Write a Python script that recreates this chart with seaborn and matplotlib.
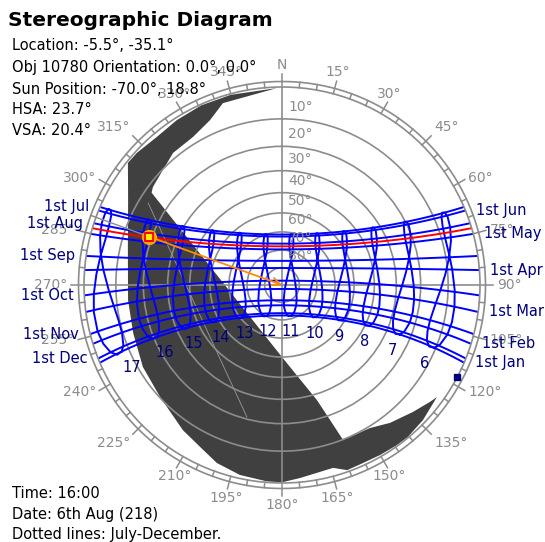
import numpy as np
import pandas as pd
import matplotlib
matplotlib.use("Agg")
import matplotlib.pyplot as plt
import seaborn as sns

plt.rcParams['font.family'] = ['DejaVu Sans']

# ---------------- data ----------------
LATITUDE = -5.5
LONGITUDE = -35.1
TIMEZONE = -3.0
OBJECT_ID = 10780
ORIENTATION = (0.0, 0.0)
SUN_AZIMUTH = -70.0
SUN_ALTITUDE = 18.8
HSA = 23.7
VSA = 20.4
TIME_LABEL = "16:00"
DATE_LABEL = "6th Aug (218)"

MONTH_LABELS = ['1st Jan', '1st Feb', '1st Mar', '1st Apr', '1st May', '1st Jun',
                '1st Jul', '1st Aug', '1st Sep', '1st Oct', '1st Nov', '1st Dec']
MONTH_DECLINATION = [-23.0, -17.2, -7.8, 4.3, 14.9, 22.0, 23.1, 18.1, 8.4, -3.0, -14.3, -21.7]
MONTH_EOT = [-3.2, -13.6, -12.5, -4.1, 2.9, 2.3, -3.7, -6.3, -0.1, 10.1, 16.4, 11.2]
MID_DECLINATION = [-21.2, -12.9, -2.4, 9.7, 18.8, 23.3, 21.6, 13.8, 2.9, -8.4, -18.4, -23.3]
MID_EOT = [-9.1, -14.2, -9.2, -0.1, 3.6, -0.3, -6.0, -4.5, 4.8, 14.2, 15.3, 4.6]
CURRENT_DECLINATION = 16.6
CURRENT_EOT = -5.9
CLOCK_HOURS = [6, 7, 8, 9, 10, 11, 12, 13, 14, 15, 16, 17]

ALTITUDE_RINGS = [10, 20, 30, 40, 50, 60, 70, 80]
AZIMUTH_LABELS = list(range(0, 360, 15))

OBSTRUCTION_AZIMUTH = [358.5, 344.9, 335.8, 327.5, 319.8, 312.3, 308.4,
                       298.9, 282.8, 264.4, 252.1, 239.5, 227.4, 214.3, 205.6,
                       200.1, 192.5, 184.4, 180.0, 174.7, 164.4, 160.6, 155.5,
                       150.0, 144.6, 140.5, 133.8, 125.9,
                       128.3, 134.1, 141.9, 148.4, 155.9, 158.5,
                       160.4, 163.1, 180.0, 231.3, 305.3,
                       307.2, 314.0, 320.5, 329.0, 336.4, 342.0]
OBSTRUCTION_ALTITUDE = [0.3, 0.3, 0.3, 0.7, 1.2, 0.5, 0.4,
                        6.8, 12.8, 14.0, 13.4, 11.6, 10.2, 6.8, 4.6,
                        2.5, 1.0, 0.3, 0.2, 1.2, 2.4, 0.5, 0.7,
                        0.5, 0.3, 0.2, 0.8, 2.0,
                        2.8, 4.7, 7.0, 9.4, 9.9, 9.9,
                        18.2, 27.4, 50.0, 64.5, 12.2,
                        11.4, 10.2, 8.3, 7.8, 5.5, 2.0]
EDGE_LINE_AZIMUTH = [301.5, 194.9]
EDGE_LINE_ALTITUDE = [13.2, 20.8]
MARKER_AZIMUTH = 117.6
MARKER_ALTITUDE = 0.0

# ---------------- style ----------------
GRAY = '#8c8c8c'
BLUE = '#0000ff'
NAVY = '#00007a'
SHADOW = '#404040'

W, H = 545, 542
CX, CY, RPX = 282, 285, 198
fig = plt.figure(figsize=(W / 100, H / 100), dpi=100)
ax = fig.add_axes([(CX - RPX) / W, 1 - (CY + RPX) / H, 2 * RPX / W, 2 * RPX / H],
                  projection='polar')


def fwd(z):
    z = np.clip(np.asarray(z, dtype=float), -170, 170)
    return np.tan(np.radians(z) / 2.0)


def inv(r):
    return np.degrees(2.0 * np.arctan(np.asarray(r, dtype=float)))


ax.set_theta_zero_location('N')
ax.set_theta_direction(-1)
ax.set_rscale('function', functions=(fwd, inv))
ax.set_rlim(0, 90)

PHI = np.radians(LATITUDE)
CLOCK_SHIFT = (LONGITUDE - 15.0 * TIMEZONE) / 15.0


def horizontal(dec, hour_angle):
    """equatorial (declination, hour angle) -> horizontal (altitude, azimuth)"""
    d = np.radians(dec)
    h = np.radians(hour_angle)
    sin_alt = np.sin(PHI) * np.sin(d) + np.cos(PHI) * np.cos(d) * np.cos(h)
    alt = np.degrees(np.arcsin(np.clip(sin_alt, -1, 1)))
    east = -np.cos(d) * np.sin(h)
    north = np.sin(d) * np.cos(PHI) - np.cos(d) * np.cos(h) * np.sin(PHI)
    az = np.degrees(np.arctan2(east, north)) % 360
    return alt, az


def hour_angle(clock, eot):
    return 15.0 * (clock + CLOCK_SHIFT + eot / 60.0 - 12.0)


def day_path(dec):
    h0 = np.degrees(np.arccos(np.clip(-np.tan(PHI) * np.tan(np.radians(dec)), -1, 1)))
    ha = np.linspace(-h0, h0, 121)
    alt, az = horizontal(dec, ha)
    return np.radians(az), 90.0 - np.clip(alt, 0, None)


# obstruction (shadow) mask
ax.fill(np.radians(OBSTRUCTION_AZIMUTH), 90.0 - np.array(OBSTRUCTION_ALTITUDE),
        color=SHADOW, lw=0, zorder=1)
ax.plot(np.radians(EDGE_LINE_AZIMUTH), 90.0 - np.array(EDGE_LINE_ALTITUDE),
        color='#9a9a9a', lw=0.6, zorder=1.2)

# grid
ax.set_rgrids([90 - a for a in ALTITUDE_RINGS], labels=[''] * len(ALTITUDE_RINGS))
ax.set_xticks(np.radians([0, 90, 180, 270]))
ax.set_xticklabels([])
ax.tick_params(length=0)
ax.grid(True, color=GRAY, lw=1.2)
ax.spines['polar'].set_color(GRAY)
ax.spines['polar'].set_linewidth(1.2)

# outer ring and ticks
z_outer = inv(203.5 / RPX)
z_major = inv(211.0 / RPX)
z_label = inv(213.0 / RPX)
ring = np.linspace(0, 2 * np.pi, 361)
ax.plot(ring, np.full_like(ring, z_outer), color=GRAY, lw=1.2, clip_on=False)
for a in range(0, 360, 5):
    top = z_major if a % 15 == 0 else z_outer
    ax.plot([np.radians(a)] * 2, [90, top], color=GRAY, lw=1.1, clip_on=False)

# azimuth labels
for a in AZIMUTH_LABELS:
    lab = 'N' if a == 0 else f'{a}°'
    s, c = np.sin(np.radians(a)), np.cos(np.radians(a))
    ha = 'center' if abs(s) < 0.6 else ('left' if s > 0 else 'right')
    va = 'center' if abs(c) < 0.6 else ('bottom' if c > 0 else 'top')
    ax.annotate(lab, xy=(np.radians(a), z_label), xytext=(2 * s, 0),
                textcoords='offset pixels', ha=ha, va=va,
                color=GRAY, fontsize=10, annotation_clip=False)

# altitude labels
for a in ALTITUDE_RINGS:
    ax.annotate(f'{a}°', xy=(0, 90 - a), xytext=(6, 12), textcoords='offset pixels',
                ha='left', va='center', color=GRAY, fontsize=10)

# date lines
rows = []
for lab, dec in zip(MONTH_LABELS, MONTH_DECLINATION):
    th, z = day_path(dec)
    rows.append(pd.DataFrame({'theta': th, 'z': z, 'unit': lab}))
dates_df = pd.concat(rows, ignore_index=True)
sns.lineplot(data=dates_df, x='theta', y='z', units='unit', estimator=None, sort=False,
             color=BLUE, lw=1.4, ax=ax, legend=False)

# analemma hour lines
year_dec, year_eot = [], []
for a, b, c, d in zip(MONTH_DECLINATION, MID_DECLINATION, MONTH_EOT, MID_EOT):
    year_dec += [a, b]
    year_eot += [c, d]
year_dec = np.array(year_dec + year_dec[:1])
year_eot = np.array(year_eot + year_eot[:1])
rows = []
for hr in CLOCK_HOURS:
    alt, az = horizontal(year_dec, hour_angle(hr, year_eot))
    rows.append(pd.DataFrame({'theta': np.radians(az), 'z': 90 - np.clip(alt, 0, None),
                              'unit': hr}))
hours_df = pd.concat(rows, ignore_index=True)
sns.lineplot(data=hours_df, x='theta', y='z', units='unit', estimator=None, sort=False,
             color=BLUE, lw=1.4, ax=ax, legend=False)

# current date
th, z = day_path(CURRENT_DECLINATION)
sns.lineplot(x=th, y=z, sort=False, estimator=None, color='#ff0000', lw=1.4, ax=ax)

ax.set_xlabel('')
ax.set_ylabel('')
ax.set_rlim(0, 90)
ax.set_facecolor('white')

# date labels
for i, (lab, dec) in enumerate(zip(MONTH_LABELS, MONTH_DECLINATION)):
    th, z = day_path(dec)
    if i < 6:
        ax.annotate(lab, xy=(th[0], 90), xytext=(11, 0), textcoords='offset pixels',
                    ha='left', va='center', color=NAVY, fontsize=10.5, annotation_clip=False)
    else:
        ax.annotate(lab, xy=(th[-1], 90), xytext=(-11, 0), textcoords='offset pixels',
                    ha='right', va='center', color=NAVY, fontsize=10.5, annotation_clip=False)

# hour labels (below the 1st Jan end of each hour line)
centre_px = ax.transData.transform((0.0, 0.0))
for hr in CLOCK_HOURS:
    alt, az = horizontal(year_dec[0], hour_angle(hr, year_eot[0]))
    px = ax.transData.transform((np.radians(az), 90 - alt))
    dx = -0.06 * (px[0] - centre_px[0])
    ax.annotate(str(hr), xy=(np.radians(az), 90 - alt), xytext=(dx, -16),
                textcoords='offset pixels', ha='center', va='center',
                color=NAVY, fontsize=10.5)

# sun
sun_t = np.radians(SUN_AZIMUTH % 360)
sun_z = 90 - SUN_ALTITUDE
ax.plot([sun_t, sun_t], [90, sun_z], color=GRAY, lw=1.0, zorder=2.1)
ax.annotate('', xy=(0, 0), xytext=(sun_t, sun_z),
            arrowprops=dict(arrowstyle='->', color='#ff8c00', lw=1.3,
                            shrinkA=5, shrinkB=0, mutation_scale=14), zorder=3)
ax.plot([sun_t], [sun_z], 'o', ms=10, color='#ffa500', zorder=4)
ax.plot([sun_t], [sun_z], 's', ms=5.5, mfc='#ffee00', mec='#ff0000', mew=1.3, zorder=5)
ax.plot([np.radians(MARKER_AZIMUTH)], [90 - MARKER_ALTITUDE], 's', ms=4.5,
        color='#00007a', clip_on=False, zorder=5)


# texts
def ftext(x, y, s, **kw):
    fig.text(x / W, 1 - y / H, s, va='center', ha='left', **kw)


ftext(8, 21, 'Stereographic Diagram', fontsize=14.5, fontweight='bold', color='black')
ftext(12, 45, f'Location: {LATITUDE}°, {LONGITUDE}°', fontsize=10.5)
ftext(12, 67, f'Obj {OBJECT_ID} Orientation: {ORIENTATION[0]}°, {ORIENTATION[1]}°', fontsize=10.5)
ftext(12, 89, f'Sun Position: {SUN_AZIMUTH}°, {SUN_ALTITUDE}°', fontsize=10.5)
ftext(12, 110, f'HSA: {HSA}°', fontsize=10.5)
ftext(12, 131, f'VSA: {VSA}°', fontsize=10.5)
ftext(12, 493, f'Time: {TIME_LABEL}', fontsize=10.5)
ftext(12, 514, f'Date: {DATE_LABEL}', fontsize=10.5)
ftext(12, 535, 'Dotted lines: July-December.', fontsize=10.5)

fig.savefig('out.png', dpi=100, facecolor='white')
